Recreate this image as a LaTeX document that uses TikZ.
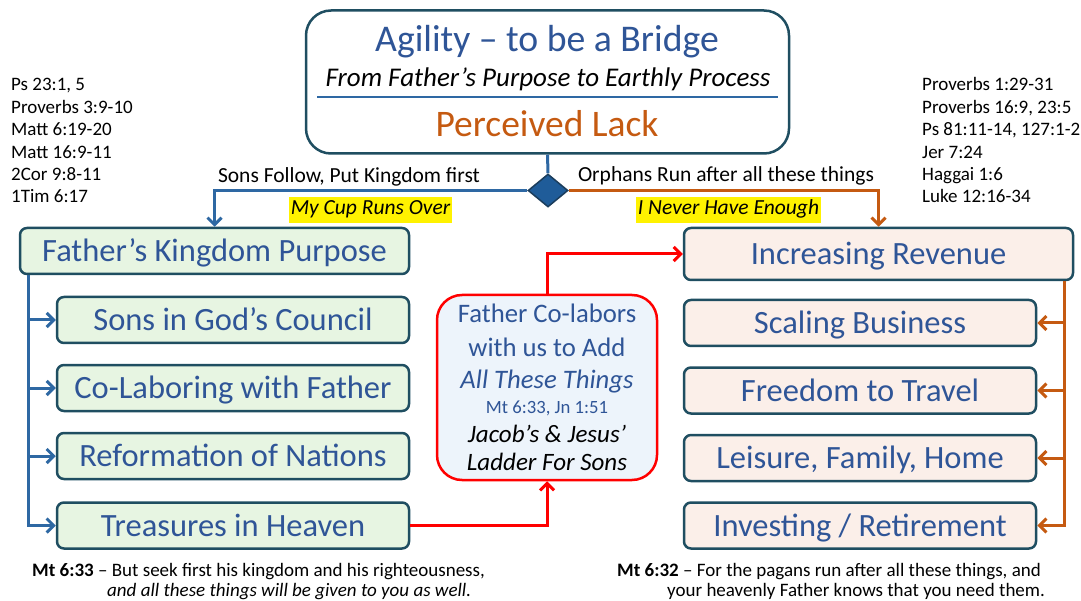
\documentclass[tikz,border=0pt]{standalone}
\usepackage{fontspec}
\setmainfont{Carlito}
\usetikzlibrary{shapes.geometric,arrows.meta}
\definecolor{edge}{RGB}{31,78,97}
\definecolor{txtblue}{RGB}{47,85,151}
\definecolor{orph}{RGB}{197,90,17}
\definecolor{sonline}{RGB}{46,104,163}
\definecolor{sonfill}{RGB}{231,245,226}
\definecolor{orphfill}{RGB}{251,239,233}
\definecolor{ladderfill}{RGB}{237,244,251}
\definecolor{diafill}{RGB}{31,92,153}
\definecolor{diaedge}{RGB}{27,61,92}
\newcommand{\sz}[2]{\fontsize{#1pt}{#2pt}\selectfont}

\begin{document}
\begin{tikzpicture}
  [x=1pt,y=-1pt,
   box/.style={draw=edge,line width=2.5pt,rounded corners=7pt,inner sep=0pt,
     text=txtblue,font=\sz{32.5}{38},text height=21pt,text depth=0pt},
   sonbox/.style={box,fill=sonfill,minimum width=352pt,minimum height=46pt},
   orphbox/.style={box,fill=orphfill,minimum width=352pt,minimum height=46pt},
   ref/.style={font=\sz{19}{22},inner sep=0pt,anchor=base west},
   tag/.style={font=\sz{21.5}{25},inner sep=0pt,anchor=base},
   hilite/.style={fill=yellow,font=\sz{21.5}{25}\itshape,inner xsep=2pt,
     minimum height=26pt,text height=14pt,text depth=4pt},
   inbox/.style={inner sep=0pt,anchor=base},
   wire/.style={line width=3pt},
   tip/.style={-{Straight Barb[length=7pt,width=14pt]}}]
  \fill[white] (0,0) rectangle (1081,601);
  \useasboundingbox (0,0) rectangle (1081,601);

  \node[draw=edge,line width=2.5pt,rounded corners=25pt,fill=white,
    minimum width=483pt,minimum height=143pt] (top) at (547.5,82) {};
  \node[inbox,text=txtblue,font=\sz{37.7}{44}] (title) at (547,52) {Agility – to be a Bridge};
  \node[inbox,font=\sz{27}{32}\itshape] (subtitle) at (548,87) {From Father’s Purpose to Earthly Process};
  \draw[sonline,line width=2.5pt] (317,97) -- (778,97);
  \node[inbox,text=orph,font=\sz{37.5}{44}] (lack) at (547,137) {Perceived Lack};

  \node[diamond,draw=diaedge,fill=diafill,line width=1.5pt,inner sep=0pt,
    minimum width=40pt,minimum height=33pt] (split) at (548,190.5) {};

  \node[box,fill=sonfill,minimum width=389pt,minimum height=46pt] (kp) at (214.5,251) {Father’s Kingdom Purpose};
  \foreach \n/\y/\t in {sons/320/Sons in God’s Council,colab/388/Co-Laboring with Father,
      reform/456/Reformation of Nations,treas/525.5/Treasures in Heaven}
    \node[sonbox] (\n) at (233,\y) {\t};

  \node[box,fill=orphfill,minimum width=389pt,minimum height=52pt] (rev) at (878.5,254) {Increasing Revenue};
  \foreach \n/\y/\t in {scale/323/Scaling Business,travel/390.5/Freedom to Travel,
      leisure/458/{Leisure, Family, Home},invest/525.5/{Investing / Retirement}}
    \node[orphbox] (\n) at (860,\y) {\t};

  \node[draw=red,line width=2.5pt,rounded corners=25pt,fill=ladderfill,
    minimum width=220pt,minimum height=185pt] (ladder) at (547,387.5) {};
  \node[inbox,text=txtblue,font=\sz{26.7}{30}] (la) at (547,323) {Father Co-labors};
  \node[inbox,text=txtblue,font=\sz{26.7}{30}] (lb) at (547,356) {with us to Add};
  \node[inbox,text=txtblue,font=\sz{26.7}{30}\itshape] (lc) at (547,388) {All These Things};
  \node[inbox,text=txtblue,font=\sz{18.7}{22}] (ld) at (547,413) {Mt 6:33, Jn 1:51};
  \node[inbox,font=\sz{25}{29}\itshape] (le) at (547,442) {Jacob’s \& Jesus’};
  \node[inbox,font=\sz{25}{29}\itshape] (lf) at (547,470) {Ladder For Sons};

  \node[tag] (follow) at (349,183) {Sons Follow, Put Kingdom first};
  \node[tag] (run) at (726,182) {Orphans Run after all these things};
  \node[hilite] (cup) at (370.5,210) {My Cup Runs Over};
  \node[hilite] (never) at (728.5,210) {I Never Have Enough};

  \foreach \t [count=\i] in {{Ps 23:1, 5},Proverbs 3:9-10,Matt 6:19-20,Matt 16:9-11,2Cor 9:8-11,1Tim 6:17}
    \node[ref] (lref\i) at (11,{68.6+22.4*\i}) {\t};
  \foreach \t [count=\i] in {Proverbs 1:29-31,{Proverbs 16:9, 23:5},{Ps 81:11-14, 127:1-2},Jer 7:24,Haggai 1:6,Luke 12:16-34}
    \node[ref] (rref\i) at (922,{68.6+22.4*\i}) {\t};

  \node[ref] (seek) at (32,576) {\textbf{Mt 6:33} – But seek first his kingdom and his righteousness,};
  \node[ref] (seekb) at (107,596) {\itshape and all these things will be given to you as well.};
  \node[ref] (pagan) at (617,576) {\textbf{Mt 6:32} – For the pagans run after all these things, and};
  \node[ref] (paganb) at (667,596) {your heavenly Father knows that you need them.};

  \draw[wire,sonline] (top.south) -- (split.north);
  \draw[wire,sonline,tip] (split.west) -| (kp.north);
  \draw[wire,orph,tip] (split.east) -| (rev.north);
  \foreach \n in {sons,colab,reform,treas}
    \draw[wire,sonline,tip] ([xshift=10pt]kp.south west) |- (\n.west);
  \foreach \n in {scale,travel,leisure,invest}
    \draw[wire,orph,tip] ([xshift=-10pt]rev.south east) |- (\n.east);
  \draw[wire,red,tip] (treas.east) -| (ladder.south);
  \draw[wire,red,tip] (ladder.north) |- (rev.west);
\end{tikzpicture}
\end{document}
